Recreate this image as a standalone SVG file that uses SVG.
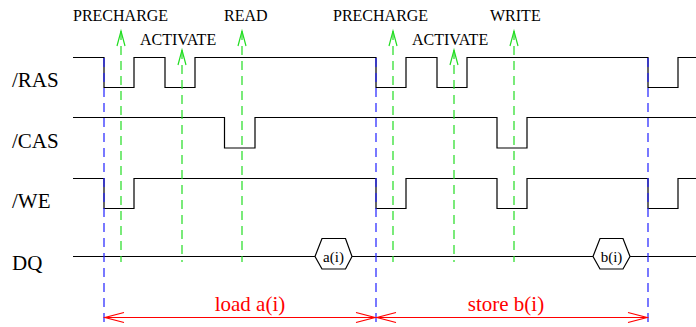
<svg xmlns="http://www.w3.org/2000/svg" width="696" height="327" viewBox="0 0 696 327">
<style>
.sig{fill:none;stroke:#000;stroke-width:1.2}
.blue{stroke:#2020ff;stroke-width:1.2;stroke-dasharray:9 6;fill:none}
.green{stroke:#22dd22;stroke-width:1.2;stroke-dasharray:9 6;fill:none}
.gh{stroke:#22dd22;stroke-width:1.2;fill:none}
.red{stroke:#ff0000;stroke-width:1.2;fill:none}
.lbl{font-family:"Liberation Serif",serif;font-size:21px;fill:#000}
.cmd{font-family:"Liberation Serif",serif;font-size:16px;fill:#000}
.rt{font-family:"Liberation Serif",serif;font-size:21px;fill:#ff0000;text-anchor:middle}
.hx{fill:#fff;stroke:#000;stroke-width:1.2}
.ht{font-family:"Liberation Serif",serif;font-size:15px;fill:#000;text-anchor:middle}
</style>
<g id="labels">
<text class="lbl" x="12" y="87">/RAS</text>
<text class="lbl" x="12" y="148">/CAS</text>
<text class="lbl" x="12" y="208">/WE</text>
<text class="lbl" x="12" y="270">DQ</text>
<text class="cmd" x="73" y="21">PRECHARGE</text>
<text class="cmd" x="140" y="44.5">ACTIVATE</text>
<text class="cmd" x="224" y="21">READ</text>
<text class="cmd" x="333" y="21">PRECHARGE</text>
<text class="cmd" x="412" y="44.5">ACTIVATE</text>
<text class="cmd" x="490" y="21">WRITE</text>
</g>
<g id="signals">
<path id="ras" class="sig" d="M73,57.5 H104 V87.5 H134 V57.5 H165 V87.5 H195 V57.5 H376 V87.5 H406 V57.5 H437 V87.5 H467 V57.5 H648 V87.5 H678 V57.5 H696"/>
<path id="cas" class="sig" d="M73,117.5 H224.5 V148 H255 V117.5 H497 V148 H527 V117.5 H696"/>
<path id="we" class="sig" d="M73,178.5 H104 V208.5 H134 V178.5 H376 V208.5 H406 V178.5 H497 V208.5 H527 V178.5 H648 V208.5 H678 V178.5 H696"/>
<path id="dq" class="sig" d="M73,256.5 H315 M352,256.5 H593 M630,256.5 H696"/>
</g>
<g id="data">
<g id="ai">
<polygon class="hx" points="315,256.5 322,238.5 345.5,238.5 352,256.5 345.5,269 322,269"/>
<text class="ht" x="333.5" y="262">a(i)</text>
</g>
<g id="bi">
<polygon class="hx" points="593,256.5 600,238.5 623,238.5 630,256.5 623,269 600,269"/>
<text class="ht" x="611.5" y="262">b(i)</text>
</g>
</g>
<g id="connectors">
<line class="blue" x1="104" y1="58" x2="104" y2="323"/>
<line class="blue" x1="376" y1="58" x2="376" y2="323"/>
<line class="blue" x1="648" y1="58" x2="648" y2="323"/>
<line class="green" x1="121" y1="31" x2="121" y2="262"/>
<path class="gh" d="M117,46 L121,31 L125,46"/>
<line class="green" x1="182" y1="50" x2="182" y2="262"/>
<path class="gh" d="M178,65 L182,50 L186,65"/>
<line class="green" x1="242" y1="31" x2="242" y2="262"/>
<path class="gh" d="M238,46 L242,31 L246,46"/>
<line class="green" x1="393" y1="31" x2="393" y2="262"/>
<path class="gh" d="M389,46 L393,31 L397,46"/>
<line class="green" x1="454" y1="50" x2="454" y2="262"/>
<path class="gh" d="M450,65 L454,50 L458,65"/>
<line class="green" x1="514" y1="31" x2="514" y2="262"/>
<path class="gh" d="M510,46 L514,31 L518,46"/>
<line class="red" x1="105" y1="317.5" x2="375" y2="317.5"/>
<path class="red" d="M124,312.5 L105,317.5 L124,322.5 M356,312.5 L375,317.5 L356,322.5"/>
<line class="red" x1="377" y1="317.5" x2="647" y2="317.5"/>
<path class="red" d="M396,312.5 L377,317.5 L396,322.5 M628,312.5 L647,317.5 L628,322.5"/>
<text class="rt" x="250" y="311">load a(i)</text>
<text class="rt" x="506" y="311">store b(i)</text>
</g>
</svg>
